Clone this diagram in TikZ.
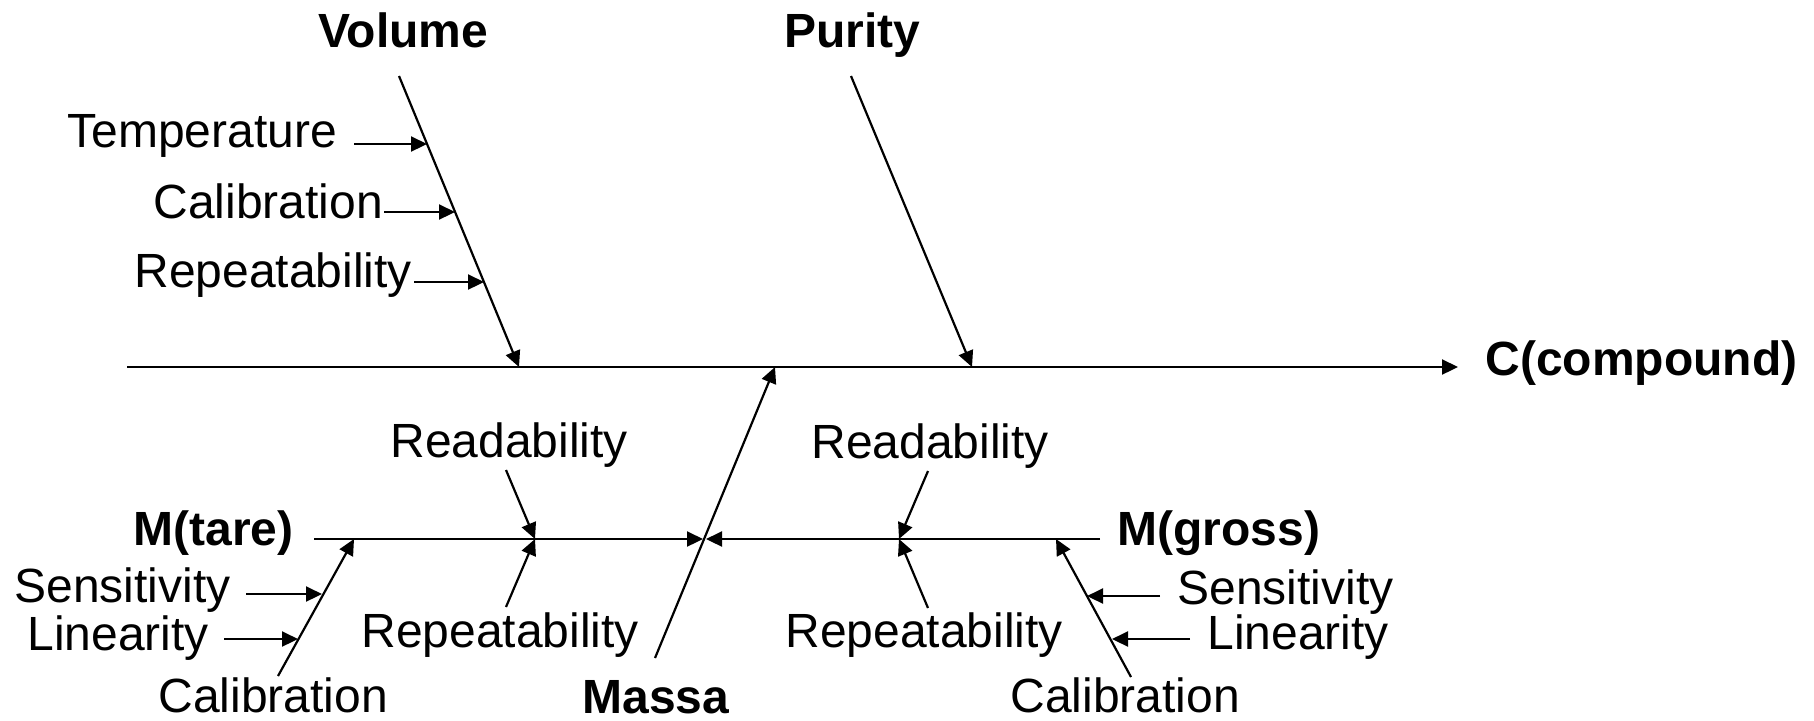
\documentclass[tikz,border=0pt]{standalone}
\usepackage{fontspec}
\setmainfont{Liberation Sans}
\usepackage{tikz}
\usetikzlibrary{arrows.meta}
\tikzset{
    bone/.style={line width=1.1pt, -{Triangle[length=8pt, width=7.5pt]}},
    cause/.style={inner sep=0pt, anchor=base west, font=\fontsize{24}{28}\selectfont\bfseries},
    factor/.style={inner sep=0pt, anchor=base west, font=\fontsize{24}{28}\selectfont}
}

\begin{document}
\begin{tikzpicture}[x=0.5pt, y=-0.5pt]
    \useasboundingbox (0,0) rectangle (1814,720);
    % spine and its end points
    \coordinate (tail) at (127,367);
    \coordinate (head) at (1458,367);
    \coordinate (vol-top) at (399,76);
    \coordinate (vol-foot) at (519,367);
    \coordinate (pur-top) at (851,76);
    \coordinate (pur-foot) at (972,367);
    \coordinate (mas-foot) at (655,658);
    \coordinate (mas-top) at (775,367);
    \coordinate (tare-a) at (314,539);
    \coordinate (tare-b) at (703,539);
    \coordinate (gross-a) at (1100,539);
    \coordinate (gross-b) at (706,539);

    \node[cause] (result) at (1485,375) {C(compound)};
    \node[cause] (volume) at (318,47) {Volume};
    \node[cause] (purity) at (784,47) {Purity};
    \node[cause] (massa) at (582,713) {Massa};
    \node[cause] (tare) at (133,545) {M(tare)};
    \node[cause] (gross) at (1117,545) {M(gross)};

    \draw[bone] (tail) -- (head);
    \draw[bone] (vol-top) -- (vol-foot);
    \draw[bone] (pur-top) -- (pur-foot);
    \draw[bone] (mas-foot) -- (mas-top);
    \draw[bone] (tare-a) -- (tare-b);
    \draw[bone] (gross-a) -- (gross-b);

    % volume factors
    \node[factor] (vtemp) at (67,147) {Temperature};
    \node[factor] (vcal) at (153,218) {Calibration};
    \node[factor] (vrep) at (134,287) {Repeatability};
    \coordinate (vtemp-a) at (354,144);
    \coordinate (vtemp-b) at (427,144);
    \coordinate (vcal-a) at (384,212);
    \coordinate (vcal-b) at (455,212);
    \coordinate (vrep-a) at (414,282);
    \coordinate (vrep-b) at (484,282);
    \draw[bone] (vtemp-a) -- (vtemp-b);
    \draw[bone] (vcal-a) -- (vcal-b);
    \draw[bone] (vrep-a) -- (vrep-b);

    % tare factors
    \node[factor] (tread) at (390,457) {Readability};
    \node[factor] (trep) at (361,647) {Repeatability};
    \node[factor] (tsens) at (14,602) {Sensitivity};
    \node[factor] (tlin) at (27,650) {Linearity};
    \node[factor] (tcal) at (158,712) {Calibration};
    \coordinate (tread-a) at (506,470);
    \coordinate (tread-b) at (535,539);
    \coordinate (trep-a) at (506,607);
    \coordinate (trep-b) at (535,539);
    \coordinate (tcal-a) at (278,676);
    \coordinate (tcal-b) at (354,539);
    \coordinate (tsens-a) at (246,594);
    \coordinate (tsens-b) at (322,594);
    \coordinate (tlin-a) at (224,639);
    \coordinate (tlin-b) at (298,639);
    \draw[bone] (tread-a) -- (tread-b);
    \draw[bone] (trep-a) -- (trep-b);
    \draw[bone] (tcal-a) -- (tcal-b);
    \draw[bone] (tsens-a) -- (tsens-b);
    \draw[bone] (tlin-a) -- (tlin-b);

    % gross factors
    \node[factor] (gread) at (811,458) {Readability};
    \node[factor] (grep) at (785,647) {Repeatability};
    \node[factor] (gsens) at (1177,604) {Sensitivity};
    \node[factor] (glin) at (1207,649) {Linearity};
    \node[factor] (gcal) at (1010,712) {Calibration};
    \coordinate (gread-a) at (928,471);
    \coordinate (gread-b) at (899,539);
    \coordinate (grep-a) at (928,608);
    \coordinate (grep-b) at (899,539);
    \coordinate (gcal-a) at (1131,677);
    \coordinate (gcal-b) at (1056,539);
    \coordinate (gsens-a) at (1160,596);
    \coordinate (gsens-b) at (1087,596);
    \coordinate (glin-a) at (1190,639);
    \coordinate (glin-b) at (1112,639);
    \draw[bone] (gread-a) -- (gread-b);
    \draw[bone] (grep-a) -- (grep-b);
    \draw[bone] (gcal-a) -- (gcal-b);
    \draw[bone] (gsens-a) -- (gsens-b);
    \draw[bone] (glin-a) -- (glin-b);
\end{tikzpicture}
\end{document}
